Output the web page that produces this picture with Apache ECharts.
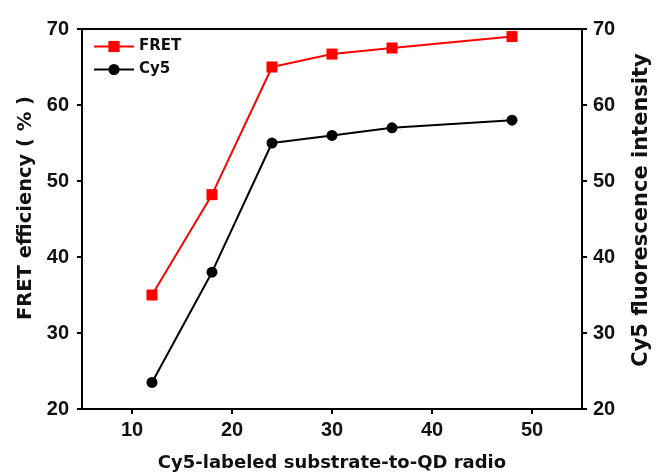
<!DOCTYPE html>
<html><head><meta charset="utf-8">
<script src="https://cdn.jsdelivr.net/npm/echarts@6/dist/echarts.min.js"></script>
<style>html,body{margin:0;padding:0;background:#fff}#c{width:657px;height:473px}</style>
</head><body><div id="c"></div>
<script>
const xValues = [12, 18, 24, 30, 36, 48];
const fretValues = [35, 48.2, 65, 66.7, 67.5, 69];
const cy5Values = [23.5, 38, 55, 56, 57, 58];
const xTicks = [10, 20, 30, 40, 50];

const font = '"Liberation Sans", Arial, sans-serif';
const wide = '"DejaVu Sans", sans-serif';
const chart = echarts.init(document.getElementById('c'), null, {renderer: 'canvas'});
const axisLbl = {color: '#111', fontFamily: font, fontWeight: 'bold', fontSize: 20};
chart.setOption({
  animation: false,
  grid: {left: 82, right: 75, top: 29, bottom: 64, show: true, borderColor: '#000', borderWidth: 2,
    containLabel: false, outerBoundsMode: 'none'},
  legend: {
    orient: 'vertical', left: 93, top: 39, padding: 0, itemWidth: 40, itemHeight: 14, itemGap: 8,
    textStyle: {fontFamily: wide, fontWeight: 'bold', fontSize: 15, color: '#111'},
    data: ['FRET', 'Cy5']
  },
  graphic: [
    {type: 'text', x: 26, y: 208, rotation: Math.PI / 2,
      style: {text: 'FRET efficiency ( % )', fill: '#111', font: 'bold 19.5px "DejaVu Sans", sans-serif',
        align: 'center', verticalAlign: 'middle'}},
    {type: 'text', x: 642, y: 210, rotation: Math.PI / 2,
      style: {text: 'Cy5 fluorescence intensity', fill: '#111', font: 'bold 21px "DejaVu Sans", sans-serif',
        align: 'center', verticalAlign: 'middle'}}
  ],
  xAxis: {
    type: 'value', min: 5, max: 55, interval: 5,
    name: 'Cy5-labeled substrate-to-QD radio', nameLocation: 'middle', nameGap: 45,
    nameTextStyle: {color: '#111', fontFamily: wide, fontWeight: 'bold', fontSize: 18},
    axisLine: {lineStyle: {color: '#000', width: 2}},
    axisTick: {inside: false, length: 5, lineStyle: {width: 2, color: '#000'}, customValues: xTicks},
    axisLabel: Object.assign({margin: 11, customValues: xTicks}, axisLbl),
    splitLine: {show: false}
  },
  yAxis: [{
    type: 'value', min: 20, max: 70, interval: 10, position: 'left',
    axisLine: {show: true, lineStyle: {color: '#000', width: 2}},
    axisTick: {show: true, length: 5, lineStyle: {width: 2, color: '#000'}},
    axisLabel: Object.assign({margin: 13}, axisLbl),
    splitLine: {show: false}
  }, {
    type: 'value', min: 20, max: 70, interval: 10, position: 'right',
    axisLine: {show: true, lineStyle: {color: '#000', width: 2}},
    axisTick: {show: true, length: 5, lineStyle: {width: 2, color: '#000'}},
    axisLabel: Object.assign({margin: 11}, axisLbl),
    splitLine: {show: false}
  }],
  series: [{
    name: 'FRET', type: 'line', yAxisIndex: 0,
    data: xValues.map((x, i) => [x, fretValues[i]]),
    symbol: 'rect', symbolSize: 11,
    lineStyle: {color: '#ff0000', width: 2}, itemStyle: {color: '#ff0000'}
  }, {
    name: 'Cy5', type: 'line', yAxisIndex: 1,
    data: xValues.map((x, i) => [x, cy5Values[i]]),
    symbol: 'circle', symbolSize: 11,
    lineStyle: {color: '#000', width: 2}, itemStyle: {color: '#000'}
  }]
});
</script></body></html>
